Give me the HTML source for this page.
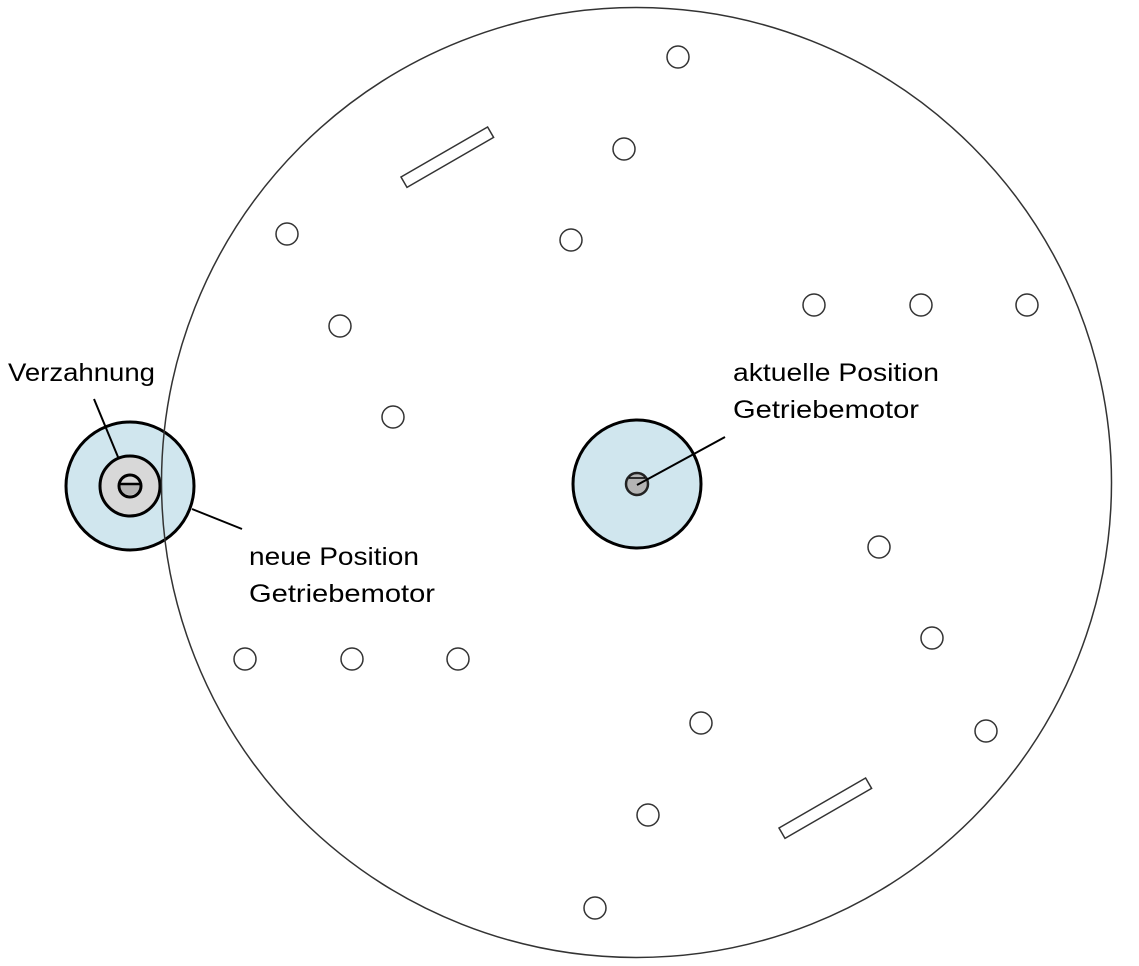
<!DOCTYPE html>
<html><head><meta charset="utf-8"><style>
html,body{margin:0;padding:0;background:#fff;}
svg{display:block;}
text{font-family:"Liberation Sans",sans-serif;font-size:25px;fill:#000;}
</style></head><body>
<svg id="d" width="1139" height="966" viewBox="0 0 1139 966">
<g id="holes"></g>
<rect x="0" y="0" width="100" height="12" fill="none" stroke="#333" stroke-width="1.5" transform="translate(401,177) rotate(-30)"/>
<rect x="0" y="0" width="100" height="12" fill="none" stroke="#333" stroke-width="1.5" transform="translate(779,828) rotate(-30)"/>
<g>
<circle cx="637" cy="484" r="64" fill="#d0e6ee" stroke="#000" stroke-width="3"/>
<circle cx="637" cy="484" r="11" fill="#b4b4b4" stroke="#222" stroke-width="2.5"/>
<line x1="629" y1="478" x2="645" y2="478" stroke="#000" stroke-width="1.5"/>
</g>
<g>
<circle cx="130" cy="486" r="64" fill="#d0e6ee" stroke="#000" stroke-width="3"/>
<circle cx="130" cy="486" r="30" fill="#d8d8d8" stroke="#000" stroke-width="3"/>
<path d="M119,484 A11,11 0 0 0 141,484 Z" fill="#b4b4b4"/>
<circle cx="130" cy="486" r="11" fill="none" stroke="#000" stroke-width="3"/>
<line x1="119" y1="484" x2="141" y2="484" stroke="#000" stroke-width="2.5"/>
</g>
<circle cx="636.5" cy="482.5" r="475" fill="none" stroke="#333" stroke-width="1.5"/>
<line x1="94" y1="399" x2="118" y2="457" stroke="#000" stroke-width="2"/>
<line x1="192" y1="509" x2="242" y2="529" stroke="#000" stroke-width="2"/>
<line x1="637" y1="485" x2="725" y2="437" stroke="#000" stroke-width="2"/>
<text x="8" y="381" textLength="147" lengthAdjust="spacingAndGlyphs">Verzahnung</text>
<text x="733" y="381" textLength="206" lengthAdjust="spacingAndGlyphs">aktuelle Position</text>
<text x="733" y="418" textLength="186" lengthAdjust="spacingAndGlyphs">Getriebemotor</text>
<text x="249" y="565" textLength="170" lengthAdjust="spacingAndGlyphs">neue Position</text>
<text x="249" y="602" textLength="186" lengthAdjust="spacingAndGlyphs">Getriebemotor</text>
</svg>
<script>
const holeX=[678,624,287,571,340,814,921,1027,393,879,932,245,352,458,701,986,648,595];
const holeY=[57,149,234,240,326,305,305,305,417,547,638,659,659,659,723,731,815,908];
const g=document.getElementById('holes');
for(let i=0;i<holeX.length;i++){
  const c=document.createElementNS('http://www.w3.org/2000/svg','circle');
  c.setAttribute('cx',holeX[i]);c.setAttribute('cy',holeY[i]);c.setAttribute('r',11);
  c.setAttribute('fill','none');c.setAttribute('stroke','#333');c.setAttribute('stroke-width','1.5');
  
  
  g.appendChild(c);
}
</script>
</body></html>
